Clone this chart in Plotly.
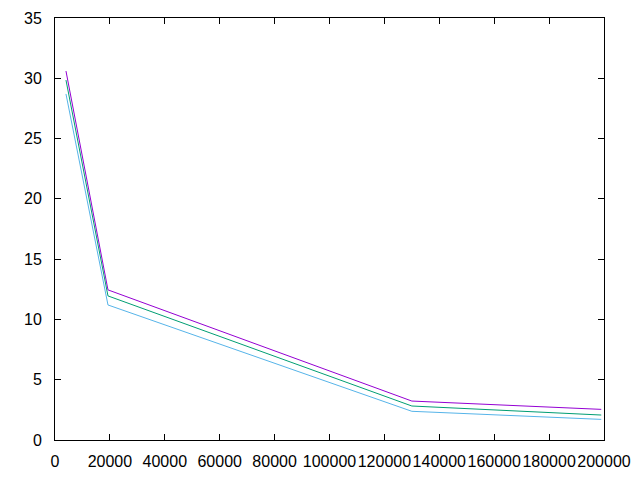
import plotly.graph_objects as go

x_vals = [4000, 19300, 130000, 199000]
series_a = [30.6, 12.45, 3.23, 2.54]
series_b = [29.85, 11.95, 2.82, 2.07]
series_c = [28.7, 11.2, 2.38, 1.71]
colors = ["#9400d3", "#009e73", "#56b4e9"]

fig = go.Figure()
for ys, c in zip([series_a, series_b, series_c], colors):
    fig.add_trace(go.Scatter(x=x_vals, y=ys, mode="lines",
                             line=dict(color=c, width=1), showlegend=False))

axis_common = dict(showgrid=False, zeroline=False, showline=True, linecolor="black",
                   linewidth=1, mirror="allticks", ticks="inside", ticklen=6,
                   tickcolor="black", automargin=False,
                   tickfont=dict(family="Liberation Sans", size=16, color="black"))
fig.update_xaxes(range=[0, 200000], tickmode="array",
                 tickvals=list(range(0, 200001, 20000)),
                 ticktext=[str(v) for v in range(0, 200001, 20000)],
                 tickangle=0, ticklabelstandoff=7, **axis_common)
fig.update_yaxes(range=[0, 35], dtick=5, tick0=0, ticksuffix="\u00a0\u00a0", **axis_common)
fig.update_layout(width=632, height=472, plot_bgcolor="white", paper_bgcolor="white",
                  margin=dict(l=47, r=36, t=10, b=40))
fig.write_html("out.html")
